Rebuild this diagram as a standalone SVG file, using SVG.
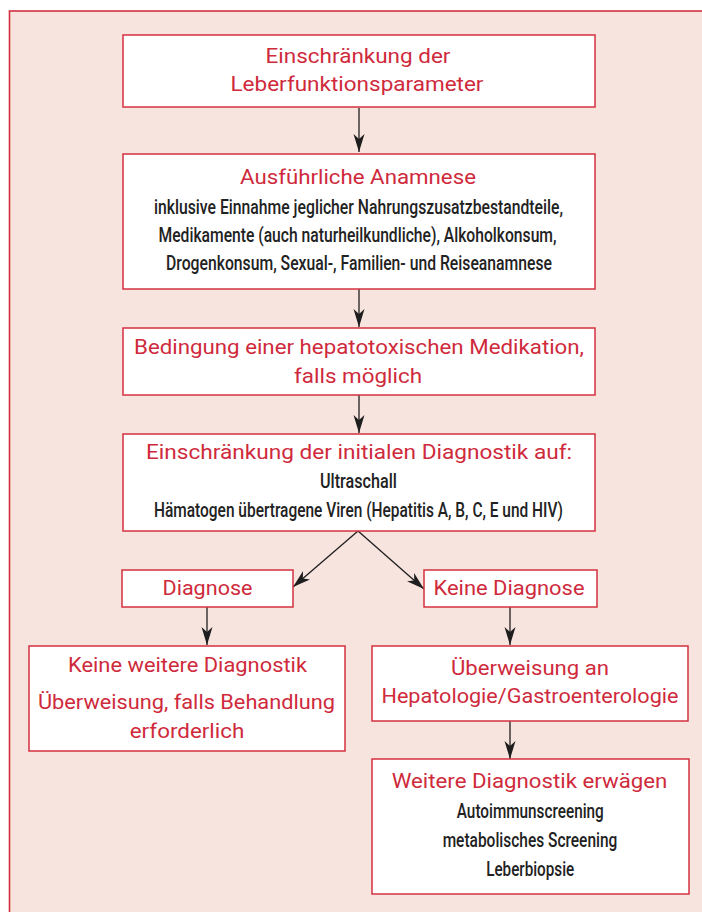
<svg xmlns="http://www.w3.org/2000/svg" width="702" height="912" viewBox="0 0 702 912">
<defs>
<style>
.box{fill:#ffffff;stroke:#d3303f;stroke-width:1.5}
.t{font-family:Roboto,"Liberation Sans",sans-serif;fill:#cf2a3c;text-anchor:middle;font-size:21px}
.c{font-family:Roboto,"Liberation Sans",sans-serif;fill:#cf2a3c;text-anchor:middle;font-size:21px}
.b{font-family:Roboto,"Liberation Sans",sans-serif;fill:#222222;text-anchor:middle;font-size:20px;font-weight:500}
.conn{stroke:#1e1e1e;stroke-width:1.3;fill:none;marker-end:url(#ah)}
</style>
<marker id="ah" markerUnits="userSpaceOnUse" viewBox="0 0 18 12" refX="18" refY="6" markerWidth="18" markerHeight="12" orient="auto">
<path d="M0,0.5 L18,6 L0,11.5 L5,6 Z" fill="#1e1e1e"/>
</marker>
</defs>
<rect x="0" y="0" width="702" height="912" fill="#ffffff"/>
<rect x="9.5" y="11" width="720" height="920" fill="#f8e4de" stroke="#d3303f" stroke-width="1.6"/>

<g id="connectors">
<line class="conn" x1="359" y1="108" x2="359" y2="152"/>
<line class="conn" x1="359" y1="289" x2="359" y2="327"/>
<line class="conn" x1="359" y1="395" x2="359" y2="433"/>
<line class="conn" x1="358" y1="531" x2="293" y2="587"/>
<line class="conn" x1="358" y1="531" x2="424" y2="589"/>
<line class="conn" x1="207" y1="607" x2="207" y2="645"/>
<line class="conn" x1="510" y1="607" x2="510" y2="645"/>
<line class="conn" x1="510" y1="721" x2="510" y2="759"/>
</g>

<g id="n1">
<rect class="box" x="123" y="35" width="472" height="72"/>
<text class="c" x="358" y="62.5" textLength="185" lengthAdjust="spacingAndGlyphs">Einschränkung der</text>
<text class="c" x="357" y="91" textLength="253" lengthAdjust="spacingAndGlyphs">Leberfunktionsparameter</text>
</g>

<g id="n2">
<rect class="box" x="123" y="154" width="472" height="135"/>
<text class="t" x="358" y="184" textLength="236" lengthAdjust="spacingAndGlyphs">Ausführliche Anamnese</text>
<text class="b" x="358.5" y="214" textLength="409" lengthAdjust="spacingAndGlyphs">inklusive Einnahme jeglicher Nahrungszusatzbestandteile,</text>
<text class="b" x="357.5" y="242" textLength="398" lengthAdjust="spacingAndGlyphs">Medikamente (auch naturheilkundliche), Alkoholkonsum,</text>
<text class="b" x="359" y="270" textLength="386" lengthAdjust="spacingAndGlyphs">Drogenkonsum, Sexual-, Familien- und Reiseanamnese</text>
</g>

<g id="n3">
<rect class="box" x="123" y="328" width="472" height="67"/>
<text class="t" x="359" y="354.3" textLength="450" lengthAdjust="spacingAndGlyphs">Bedingung einer hepatotoxischen Medikation,</text>
<text class="t" x="358" y="382.7" textLength="128" lengthAdjust="spacingAndGlyphs">falls möglich</text>
</g>

<g id="n4">
<rect class="box" x="123" y="434" width="472" height="97"/>
<text class="t" x="359" y="459.3" textLength="426" lengthAdjust="spacingAndGlyphs">Einschränkung der initialen Diagnostik auf:</text>
<text class="b" x="358.5" y="488.3" textLength="77" lengthAdjust="spacingAndGlyphs">Ultraschall</text>
<text class="b" x="358.5" y="517.3" textLength="409" lengthAdjust="spacingAndGlyphs">Hämatogen übertragene Viren (Hepatitis A, B, C, E und HIV)</text>
</g>

<g id="n5">
<rect class="box" x="122" y="570" width="171" height="37"/>
<text class="c" x="207.5" y="595" textLength="90" lengthAdjust="spacingAndGlyphs">Diagnose</text>
</g>

<g id="n6">
<rect class="box" x="424" y="570" width="173" height="37"/>
<text class="c" x="509" y="595" textLength="151" lengthAdjust="spacingAndGlyphs">Keine Diagnose</text>
</g>

<g id="n7">
<rect class="box" x="29" y="646" width="316" height="105"/>
<text class="c" x="187.5" y="672" textLength="239" lengthAdjust="spacingAndGlyphs">Keine weitere Diagnostik</text>
<text class="c" x="186.5" y="708.5" textLength="297" lengthAdjust="spacingAndGlyphs">Überweisung, falls Behandlung</text>
<text class="c" x="187" y="737.5" textLength="114.5" lengthAdjust="spacingAndGlyphs">erforderlich</text>
</g>

<g id="n8">
<rect class="box" x="372" y="646" width="316" height="75"/>
<text class="c" x="530" y="675" textLength="158" lengthAdjust="spacingAndGlyphs">Überweisung an</text>
<text class="c" x="530" y="703.3" textLength="297" lengthAdjust="spacingAndGlyphs">Hepatologie/Gastroenterologie</text>
</g>

<g id="n9">
<rect class="box" x="372" y="759" width="317" height="135"/>
<text class="t" x="529.5" y="788.3" textLength="275.7" lengthAdjust="spacingAndGlyphs">Weitere Diagnostik erwägen</text>
<text class="b" x="530.3" y="817.7" textLength="147" lengthAdjust="spacingAndGlyphs">Autoimmunscreening</text>
<text class="b" x="530" y="846.7" textLength="174.7" lengthAdjust="spacingAndGlyphs">metabolisches Screening</text>
<text class="b" x="530.2" y="876" textLength="88" lengthAdjust="spacingAndGlyphs">Leberbiopsie</text>
</g>
</svg>
